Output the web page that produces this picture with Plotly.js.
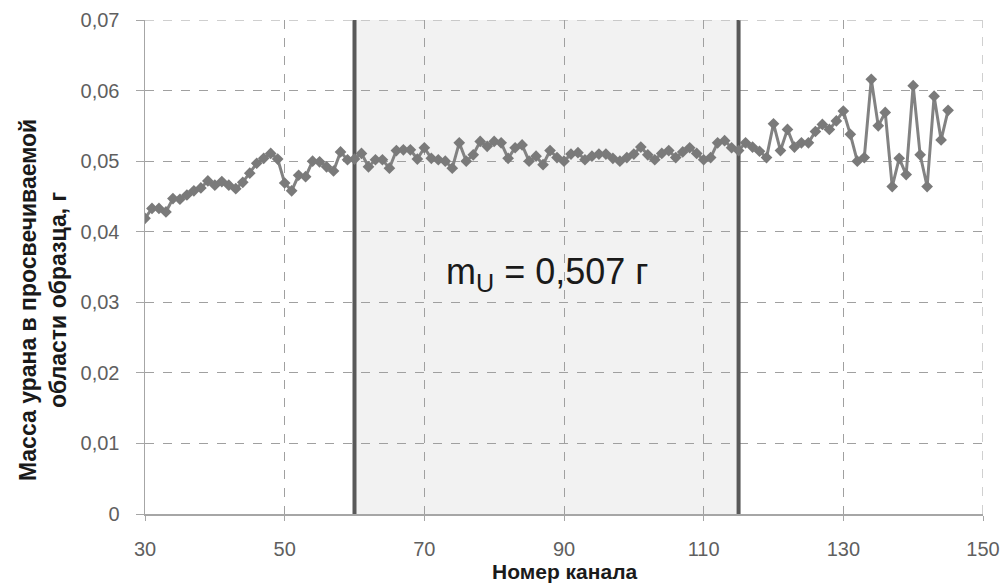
<!DOCTYPE html>
<html>
<head>
<meta charset="utf-8">
<script src="https://cdn.plot.ly/plotly-3.0.1.min.js"></script>
<style>html,body{margin:0;padding:0;background:#fff;}#chart{width:1002px;height:586px;}</style>
</head>
<body>
<div id="chart"></div>
<script>
const channels = [];
for (let c = 30; c <= 145; c++) channels.push(c);

const mass = [
  0.0419, 0.0433, 0.0433, 0.0428, 0.0447, 0.0446, 0.0452, 0.0458, 0.0462, 0.0472,
  0.0466, 0.0471, 0.0466, 0.0461, 0.0470, 0.0483, 0.0497, 0.0504, 0.0511, 0.0503,
  0.0469, 0.0458, 0.0480, 0.0478, 0.0500, 0.0499, 0.0492, 0.0486, 0.0513, 0.0502,
  0.0503, 0.0511, 0.0492, 0.0502, 0.0502, 0.0490, 0.0515, 0.0516, 0.0516, 0.0503,
  0.0519, 0.0504, 0.0502, 0.0500, 0.0490, 0.0526, 0.0500, 0.0509, 0.0528, 0.0521,
  0.0528, 0.0526, 0.0504, 0.0519, 0.0523, 0.0500, 0.0507, 0.0495, 0.0515, 0.0505,
  0.0500, 0.0510, 0.0512, 0.0502, 0.0507, 0.0510, 0.0510, 0.0504, 0.0500, 0.0505,
  0.0510, 0.0520, 0.0509, 0.0502, 0.0511, 0.0515, 0.0505, 0.0513, 0.0519, 0.0511,
  0.0502, 0.0505, 0.0526, 0.0529, 0.0519, 0.0515, 0.0526, 0.0520, 0.0514, 0.0505,
  0.0553, 0.0515, 0.0545, 0.0520, 0.0526, 0.0526, 0.0542, 0.0552, 0.0545, 0.0557,
  0.0571, 0.0538, 0.0500, 0.0505, 0.0616, 0.0550, 0.0569, 0.0464, 0.0504, 0.0481,
  0.0607, 0.0509, 0.0464, 0.0592, 0.0530, 0.0572
];

const regionBounds = [60, 115];
const yTicks = [0, 0.01, 0.02, 0.03, 0.04, 0.05, 0.06, 0.07];
const xTicks = [30, 50, 70, 90, 110, 130, 150];
const annotationText = 'm<sub>U</sub> = 0,507 г';
const annotationPos = [87.5, 0.034];
const yTitle = 'Масса урана в просвечиваемой<br>области образца, г';
const xTitle = 'Номер канала';

const traces = [
  {
    x: [regionBounds[0], regionBounds[0]], y: [0, 0.07], mode: 'lines',
    line: {color: '#595959', width: 4}, hoverinfo: 'skip', showlegend: false
  },
  {
    x: [regionBounds[1], regionBounds[1]], y: [0, 0.07], mode: 'lines',
    line: {color: '#595959', width: 4}, hoverinfo: 'skip', showlegend: false
  },
  {
    x: channels, y: mass, mode: 'lines+markers',
    line: {color: '#828282', width: 3},
    marker: {symbol: 'diamond', size: 9, color: '#7a7a7a'},
    showlegend: false
  }
];

const tickFont = {family: '"Liberation Sans", Arial, sans-serif', size: 20, color: '#5f5f5f'};
const titleFont = {family: '"Liberation Sans", Arial, sans-serif', size: 23, color: '#1a1a1a', weight: 'bold'};
const xTitleFont = {family: '"Liberation Sans", Arial, sans-serif', size: 21, color: '#1a1a1a', weight: 'bold'};

const layout = {
  width: 1002, height: 586,
  margin: {l: 145, r: 19, t: 20, b: 72},
  paper_bgcolor: '#ffffff', plot_bgcolor: '#ffffff',
  separators: ', ',
  showlegend: false,
  xaxis: {
    range: [30, 150], tickvals: xTicks, ticktext: xTicks.map(String),
    showgrid: true, gridcolor: '#a0a0a0', griddash: 'dash', gridwidth: 1,
    showline: true, linecolor: '#a6a6a6', linewidth: 1.5,
    ticks: 'outside', ticklen: 5, tickcolor: '#a6a6a6',
    ticklabelstandoff: 11,
    zeroline: false, tickfont: tickFont
  },
  yaxis: {
    range: [0, 0.07], tickvals: yTicks, ticktext: yTicks.map(v => v === 0 ? '0' : v.toFixed(2).replace('.', ',')),
    showgrid: true, gridcolor: '#a0a0a0', griddash: 'dash', gridwidth: 1,
    showline: true, linecolor: '#a6a6a6', linewidth: 1.5,
    ticks: 'outside', ticklen: 8, tickcolor: '#a6a6a6',
    ticklabelstandoff: 12,
    zeroline: false, tickfont: tickFont
  },
  shapes: [
    {type: 'rect', xref: 'x', yref: 'y', x0: regionBounds[0], x1: regionBounds[1], y0: 0, y1: 0.07,
     fillcolor: '#f2f2f2', line: {width: 0}, layer: 'below'},
    {type: 'line', xref: 'x', yref: 'paper', x0: 150, x1: 150, y0: 0, y1: 1,
     line: {color: '#a0a0a0', width: 1, dash: 'dash'}},
    {type: 'line', xref: 'paper', yref: 'y', x0: 0, x1: 1, y0: 0.07, y1: 0.07,
     line: {color: '#a0a0a0', width: 1, dash: 'dash'}}
  ],
  annotations: [
    {x: annotationPos[0], y: annotationPos[1], xref: 'x', yref: 'y', text: annotationText, showarrow: false,
     font: {family: '"Liberation Sans", Arial, sans-serif', size: 36, color: '#1a1a1a'}},
    {x: -0.1217, y: 0.433, xref: 'paper', yref: 'paper', text: yTitle, showarrow: false, textangle: -90,
     xanchor: 'center', yanchor: 'middle', font: titleFont},
    {x: 0.501, y: -0.1154, xref: 'paper', yref: 'paper', text: xTitle, showarrow: false,
     xanchor: 'center', yanchor: 'middle', font: xTitleFont}
  ]
};

Plotly.newPlot('chart', traces, layout, {displayModeBar: false, staticPlot: true});
</script>
</body>
</html>
